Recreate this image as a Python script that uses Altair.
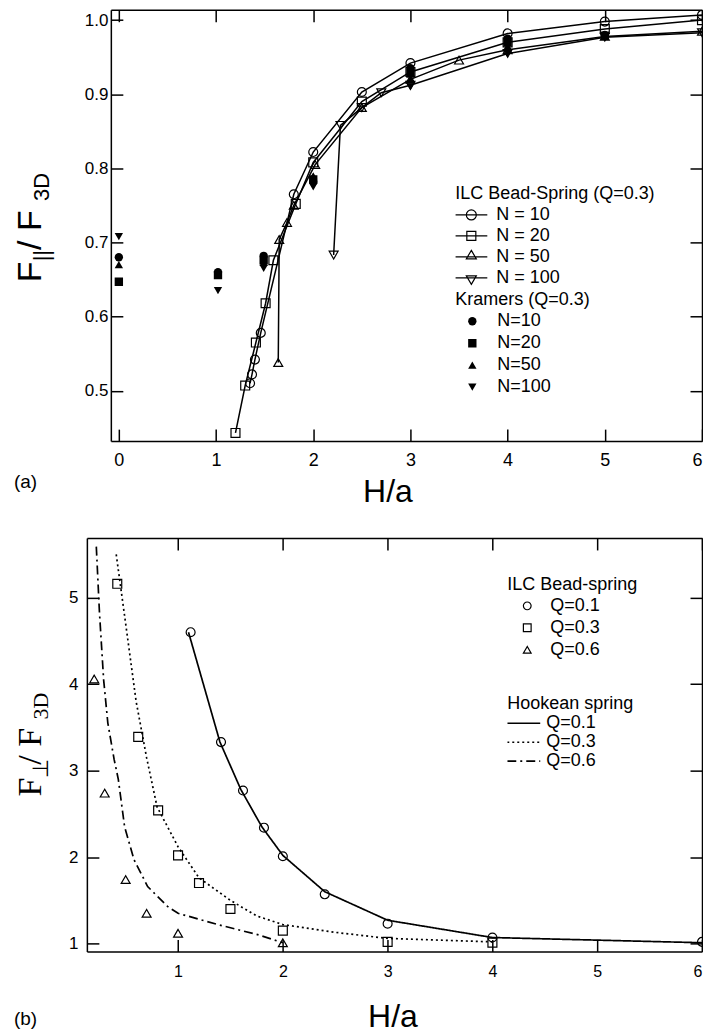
import altair as alt
import pandas as pd

# ---------------- Panel (a) data ----------------
ilc_names = ["N = 10", "N = 20", "N = 50", "N = 100"]
ilc_n10_x = [1.35, 1.37, 1.40, 1.46, 1.80, 2.00, 2.50, 3.00, 4.00, 5.00, 6.00]
ilc_n10_y = [0.510, 0.522, 0.542, 0.578, 0.765, 0.822, 0.903, 0.942, 0.982, 0.998, 1.007]
ilc_n20_x = [1.20, 1.30, 1.41, 1.51, 1.59, 1.82, 2.00, 2.50, 3.00, 4.00, 5.00, 6.00]
ilc_n20_y = [0.443, 0.507, 0.565, 0.618, 0.676, 0.752, 0.808, 0.890, 0.930, 0.970, 0.988, 1.000]
ilc_n50_x = [1.64, 1.65, 1.73, 1.80, 2.02, 2.50, 3.00, 3.50, 4.00, 5.00, 6.00]
ilc_n50_y = [0.538, 0.704, 0.727, 0.750, 0.805, 0.882, 0.920, 0.946, 0.960, 0.978, 0.985]
ilc_n100_x = [2.21, 2.28, 2.50, 2.70, 3.00, 4.00, 5.00, 6.00]
ilc_n100_y = [0.683, 0.858, 0.882, 0.902, 0.912, 0.955, 0.977, 0.983]

kr_names = ["N=10", "N=20", "N=50", "N=100"]
kr_x = [0.0, 1.02, 1.49, 2.0, 3.0, 4.0, 5.0]
kr_n10_y = [0.680, 0.660, 0.682, 0.782, 0.935, 0.975, 0.980]
kr_n20_y = [0.647, 0.656, 0.676, 0.785, 0.928, 0.970, 0.979]
kr_n50_y = [0.670, 0.660, 0.673, 0.790, 0.920, 0.965, 0.978]
kr_n100_y = [0.708, 0.635, 0.665, 0.775, 0.910, 0.955, 0.976]

a_xticks = [0, 1, 2, 3, 4, 5, 6]
a_yticks = [0.5, 0.6, 0.7, 0.8, 0.9, 1.0]

# ---------------- Panel (b) data ----------------
q_names = ["Q=0.1", "Q=0.3", "Q=0.6"]
b_ilc_q01_x = [1.12, 1.41, 1.62, 1.82, 2.00, 2.40, 3.00, 4.00, 6.00]
b_ilc_q01_y = [4.60, 3.33, 2.77, 2.34, 2.01, 1.57, 1.23, 1.07, 1.02]
b_ilc_q03_x = [0.42, 0.62, 0.81, 1.00, 1.20, 1.50, 2.00, 3.00, 4.00]
b_ilc_q03_y = [5.16, 3.39, 2.54, 2.02, 1.70, 1.40, 1.15, 1.02, 1.01]
b_ilc_q06_x = [0.20, 0.30, 0.50, 0.70, 1.00, 2.00]
b_ilc_q06_y = [4.06, 2.74, 1.74, 1.35, 1.12, 1.01]

b_hook_q01_x = [1.10, 1.40, 1.60, 1.80, 2.00, 2.40, 3.00, 4.00, 6.00]
b_hook_q01_y = [4.60, 3.33, 2.78, 2.35, 2.02, 1.60, 1.27, 1.07, 1.01]
b_hook_q03_x = [0.41, 0.50, 0.60, 0.70, 0.80, 1.00, 1.20, 1.50, 1.75, 2.00, 2.50, 3.00, 4.00]
b_hook_q03_y = [5.50, 4.70, 3.80, 3.15, 2.58, 2.12, 1.76, 1.50, 1.32, 1.22, 1.13, 1.06, 1.02]
b_hook_q06_x = [0.22, 0.25, 0.29, 0.33, 0.39, 0.43, 0.49, 0.58, 0.71, 0.90, 1.00, 1.38, 1.77, 2.00]
b_hook_q06_y = [5.59, 4.83, 4.05, 3.55, 3.13, 2.90, 2.35, 1.97, 1.66, 1.43, 1.35, 1.22, 1.10, 1.01]

b_xticks = [1, 2, 3, 4, 5, 6]
b_yticks = [1, 2, 3, 4, 5]


def long_df(key, names, xs_list, ys_list):
    rows = []
    for n, xs, ys in zip(names, xs_list, ys_list):
        for x, y in zip(xs, ys):
            rows.append({key: n, "x": x, "y": y})
    return pd.DataFrame(rows)


df_ilc = long_df("ilc", ilc_names, [ilc_n10_x, ilc_n20_x, ilc_n50_x, ilc_n100_x],
                 [ilc_n10_y, ilc_n20_y, ilc_n50_y, ilc_n100_y])
df_kr = long_df("kramers", kr_names, [kr_x] * 4, [kr_n10_y, kr_n20_y, kr_n50_y, kr_n100_y])
df_b_ilc = long_df("ilcq", q_names, [b_ilc_q01_x, b_ilc_q03_x, b_ilc_q06_x],
                   [b_ilc_q01_y, b_ilc_q03_y, b_ilc_q06_y])
df_b_hook = long_df("hook", q_names, [b_hook_q01_x, b_hook_q03_x, b_hook_q06_x],
                    [b_hook_q01_y, b_hook_q03_y, b_hook_q06_y])

SANS = "Liberation Sans"
SERIF = "Liberation Serif"
INWARD = {"expr": "-12"}


def txt(s, x, y, size, font=SANS, angle=0):
    return alt.Chart(pd.DataFrame({"t": [s]})).mark_text(
        align="left", baseline="alphabetic", angle=angle, font=font,
        fontSize=size, color="black"
    ).encode(text="t:N", x=alt.value(x), y=alt.value(y))


def leg(title, x, y, **kw):
    base = dict(title=title, orient="none", legendX=x, legendY=y, padding=0,
                titleFont=SANS, titleFontSize=18, titleFontWeight="normal",
                titleColor="black", titlePadding=1, titleLimit=400, labelFont=SANS,
                labelFontSize=18, labelColor="black", rowPadding=0)
    base.update(kw)
    return alt.Legend(**base)


# ---------------- Panel (a) ----------------
# plot group spans x 86..702; the framed box starts 24 px in (x = 110)
xs_a = alt.Scale(domain=[-0.329, 6.0], nice=False, zero=False)
ys_a = alt.Scale(domain=[0.432, 1.014], nice=False, zero=False)
DASH_A = [0, 24, 592]

ax_a_bottom = alt.Axis(values=a_xticks, format="d", tickSize=INWARD, labelFontSize=18,
                       labelPadding=22, labelFlush=3, domainDash=DASH_A,
                       title="H/a", titleFontSize=32, titleFont=SANS,
                       titleFontWeight="normal", titleX=301, titleY=60,
                       titleBaseline="alphabetic", titleAlign="center")
ax_a_left = alt.Axis(values=a_yticks, format=".1f", tickSize=INWARD, labelFontSize=17,
                     labelPadding=15, offset=-24, title=None)
ax_a_top = alt.Axis(orient="top", values=a_xticks, tickSize=INWARD, labels=False,
                    domainDash=DASH_A, title=None)
ax_a_right = alt.Axis(orient="right", values=a_yticks, tickSize=INWARD, labels=False, title=None)

lines_a = alt.Chart(df_ilc).mark_line(color="black", strokeWidth=1.5, clip=True).encode(
    x=alt.X("x:Q", scale=xs_a, axis=ax_a_bottom),
    y=alt.Y("y:Q", scale=ys_a, axis=ax_a_left),
    detail="ilc:N",
)
pts_a = alt.Chart(df_ilc).mark_point(filled=False, color="black", size=80, strokeWidth=1.2,
                                     opacity=1, clip=True).encode(
    x=alt.X("x:Q", scale=xs_a, axis=ax_a_top),
    y=alt.Y("y:Q", scale=ys_a, axis=ax_a_right),
    shape=alt.Shape("ilc:N", scale=alt.Scale(
        domain=ilc_names, range=["circle", "square", "triangle-up", "triangle-down"]), legend=None),
)
kr_a = alt.Chart(df_kr).mark_point(filled=True, color="black", size=70, opacity=1, clip=True).encode(
    x=alt.X("x:Q", scale=xs_a, axis=None),
    y=alt.Y("y:Q", scale=ys_a, axis=None),
    shape=alt.Shape("kramers:N", scale=alt.Scale(
        domain=kr_names, range=["circle", "square", "triangle-up", "triangle-down"]),
        legend=leg("Kramers (Q=0.3)", 369, 282, symbolSize=70, symbolOffset=8,
                   labelOffset=16, clipHeight=22)),
)
ilc_paths = [
    "M-3.2,0H3.2M-1,0A1,1,0,1,1,1,0A1,1,0,1,1,-1,0",
    "M-3.2,0H3.2M-0.9,-0.9H0.9V0.9H-0.9Z",
    "M-3.2,0H3.2M0,-1.3L1,0.4H-1Z",
    "M-3.2,0H3.2M0,1.3L1,-0.4H-1Z",
]
leg_a = alt.Chart(df_ilc).transform_filter("false").mark_point(
    filled=False, color="black", opacity=1, strokeWidth=1.2).encode(
    x=alt.X("x:Q", scale=xs_a, axis=None),
    y=alt.Y("y:Q", scale=ys_a, axis=None),
    shape=alt.Shape("ilc:N", scale=alt.Scale(domain=ilc_names, range=ilc_paths),
                    legend=leg("ILC Bead-Spring (Q=0.3)", 369, 176, symbolSize=100,
                               symbolOffset=7, labelOffset=16, clipHeight=21,
                               symbolStrokeWidth=1.2)),
)

texts_a = [
    txt("F", -46, 273, 34, angle=270),
    txt("||", -38, 252, 22, angle=270),
    txt(" / F", -46, 240.6, 34, angle=270),
    txt("3D", -38, 191.5, 22, angle=270),
    txt("(a)", -73, 479, 19),
]

top = alt.layer(lines_a, pts_a, kr_a, leg_a, *texts_a).resolve_scale(
    shape="independent").resolve_axis(x="independent", y="independent").properties(
    width=616, height=432)

# ---------------- Panel (b) ----------------
xs_b = alt.Scale(domain=[0.13, 6.0], nice=False, zero=False)
ys_b = alt.Scale(domain=[0.91, 5.69], nice=False, zero=False)

ax_b_bottom = alt.Axis(values=b_xticks, format="d", tickSize=INWARD, labelFontSize=16,
                       labelPadding=24, labelFlush=3, title="H/a", titleFontSize=32,
                       titleFont=SANS, titleFontWeight="normal", titleX=306, titleY=75,
                       titleBaseline="alphabetic", titleAlign="center")
ax_b_left = alt.Axis(values=b_yticks, format="d", tickSize=INWARD, labelFontSize=17,
                     labelPadding=21, title=None)
ax_b_top = alt.Axis(orient="top", values=b_xticks, tickSize=INWARD, labels=False, title=None)
ax_b_right = alt.Axis(orient="right", values=b_yticks, tickSize=INWARD, labels=False, title=None)

hook_b = alt.Chart(df_b_hook).mark_line(color="black", strokeWidth=1.7, clip=True).encode(
    x=alt.X("x:Q", scale=xs_b, axis=ax_b_bottom),
    y=alt.Y("y:Q", scale=ys_b, axis=ax_b_left),
    strokeDash=alt.StrokeDash("hook:N", scale=alt.Scale(
        domain=q_names, range=[[1, 0], [2, 3], [9, 4, 2, 4]]),
        legend=leg("Hookean spring", 421, 157, symbolType="stroke", symbolSize=1089,
                   symbolOffset=-1, labelOffset=5, clipHeight=19,
                   symbolStrokeWidth=1.6, symbolStrokeColor="black")),
)
# shape domain is taken from the data (same order) so this legend stays separate
pts_b = alt.Chart(df_b_ilc).mark_point(filled=False, color="black", size=80, strokeWidth=1.2,
                                       opacity=1, clip=True).encode(
    x=alt.X("x:Q", scale=xs_b, axis=ax_b_top),
    y=alt.Y("y:Q", scale=ys_b, axis=ax_b_right),
    shape=alt.Shape("ilcq:N", scale=alt.Scale(range=["circle", "square", "triangle-up"]),
                    legend=leg("ILC Bead-spring", 421, 38, symbolSize=60, symbolOffset=11,
                               labelOffset=14, clipHeight=22, symbolStrokeWidth=1.2)),
)
texts_b = [
    txt("F", -46, 259, 34, font=SERIF, angle=270),
    txt("\u22a5", -39, 240, 22, font=SERIF, angle=270),
    txt(" / F", -46, 227, 34, font=SERIF, angle=270),
    txt("3D", -39, 181.7, 22, font=SERIF, angle=270),
    txt("(b)", -73, 488, 19),
]

bottom = alt.layer(hook_b, pts_b, *texts_b).resolve_scale(
    shape="independent", strokeDash="independent").resolve_axis(
    x="independent", y="independent").properties(width=616, height=414)

chart = alt.concat(top, bottom, columns=1, spacing=30).resolve_scale(
    shape="independent", strokeDash="independent").properties(
    padding={"left": 13, "top": 8, "right": 0, "bottom": 0}, background="white"
).configure_view(strokeWidth=0).configure_axis(
    grid=False, domain=True, domainColor="black", domainWidth=1.5,
    tickColor="black", tickWidth=1.5, labelColor="black",
    labelFont=SANS, titleColor="black")

chart.save("out.html", embed_options={"renderer": "svg", "actions": False})
